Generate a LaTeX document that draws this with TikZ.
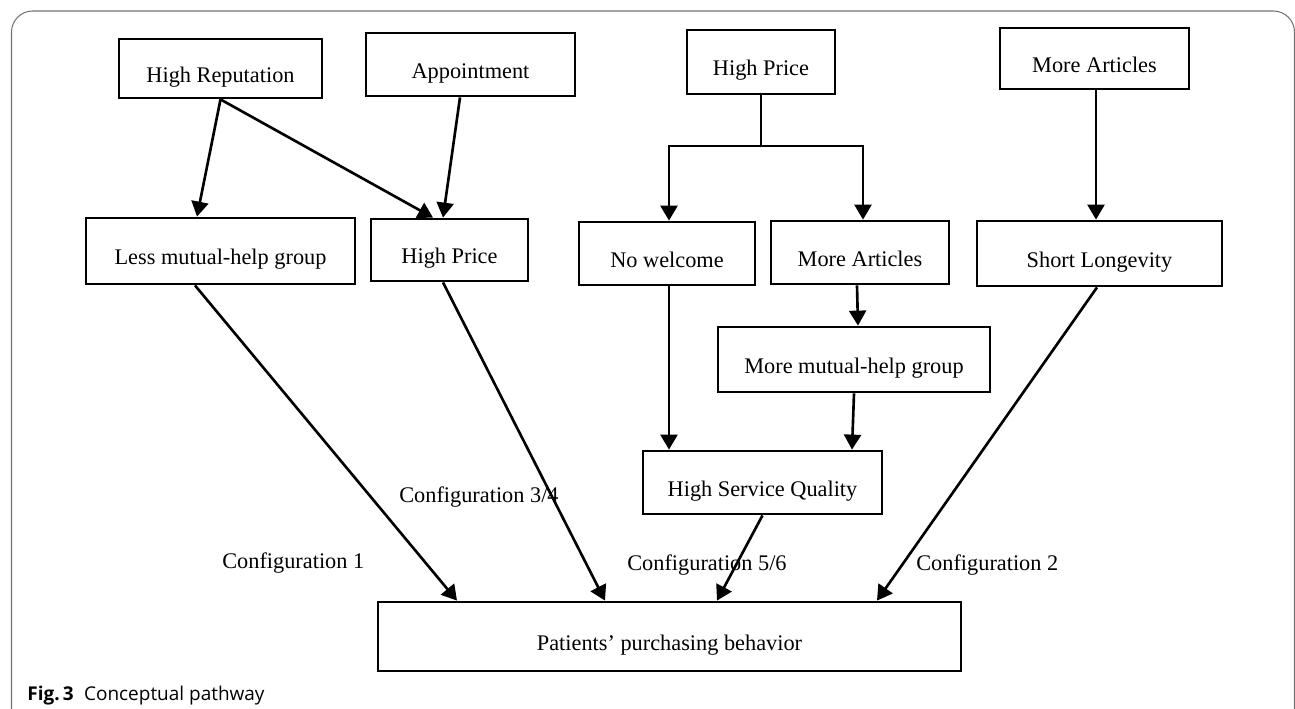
\documentclass[tikz,border=0pt]{standalone}
\usepackage{fontspec}
\setmainfont{Liberation Serif}
\newfontfamily\capfont{Open Sans}
\usetikzlibrary{positioning, arrows.meta, calc}

\begin{document}
\begin{tikzpicture}
[x=0.02cm, y=-0.02cm,
 blk/.style={rectangle, draw, line width=1.6pt, inner sep=2pt, text height=18pt, text depth=2.5pt, font=\fontsize{12.7}{15}\selectfont},
 cfg/.style={anchor=base west, inner sep=0pt, font=\fontsize{12.7}{15}\selectfont},
 ->/.style={line width=1.5pt, arrows={-Triangle[length=0.3cm, width=0.34cm]}}]

\useasboundingbox (0,0) rectangle (1295,708);

% outer frame
\draw[black!55, line width=0.6pt, rounded corners=12pt] (11.5,760) -- (11.5,11) -- (1294.5,11) -- (1294.5,760);

% top row
\node[blk, minimum width=4.06cm, minimum height=1.18cm] (hrep) at (220.5,68.5) {High Reputation};
\node[blk, minimum width=4.18cm, minimum height=1.26cm] (appt) at (470.5,64.5) {Appointment};
\node[blk, minimum width=2.96cm, minimum height=1.28cm] (hpriceT) at (761,62) {High Price};
\node[blk, minimum width=3.78cm, minimum height=1.22cm] (martT) at (1094.5,58.5) {More Articles};

% second row
\node[blk, minimum width=5.38cm, minimum height=1.32cm] (lessmh) at (220.5,251) {Less mutual-help group};
\node[blk, minimum width=3.14cm, minimum height=1.24cm] (hpriceM) at (449.5,250) {High Price};
\node[blk, minimum width=3.52cm, minimum height=1.26cm] (nowel) at (667,253.5) {No welcome};
\node[blk, minimum width=3.56cm, minimum height=1.26cm] (martM) at (860,252.5) {More Articles};
\node[blk, minimum width=4.9cm, minimum height=1.3cm] (shortl) at (1099.5,253.5) {Short Longevity};

% lower boxes
\node[blk, minimum width=5.44cm, minimum height=1.3cm] (moremh) at (854,359.5) {More mutual-help group};
\node[blk, minimum width=4.78cm, minimum height=1.26cm] (hsq) at (762.5,482.5) {High Service Quality};
\node[blk, minimum width=11.66cm, minimum height=1.38cm] (purch) at (669.5,636.5) {Patients' purchasing behavior};

% configuration labels
\node[cfg] (cfgA) at (222,568) {Configuration 1};
\node[cfg] (cfgB) at (399,502) {Configuration 3/4};
\node[cfg] (cfgC) at (627,570) {Configuration 5/6};
\node[cfg] (cfgD) at (916,570) {Configuration 2};

\coordinate (fork) at (761,146);

\draw [->] (hrep.south) -- ($(lessmh.north)+(-23.5,0)$);
\draw [->] (hrep.south) -- ($(hpriceM.north)+(-16.5,0)$);
\draw [->] ($(appt.south)+(-10.5,0)$) -- ($(hpriceM.north)+(-6.5,0)$);
\draw [line width=1.5pt] (hpriceT.south) -- (fork);
\draw [->] (fork) -| ($(nowel.north)+(2,0)$);
\draw [->] (fork) -| ($(martM.north)+(3,0)$);
\draw [->] ($(martT.south)+(1.5,0)$) -- ($(martT.south |- shortl.north)+(1.5,0)$);
\draw [->] ($(martM.south)+(-3,0)$) -- ($(moremh.north)+(4,0)$);
\draw [->] ($(nowel.south)+(2,0)$) -- ($(nowel.south |- hsq.north)+(2,0)$);
\draw [->] (moremh.south) -- ($(hsq.north)+(89.5,0)$);

\draw [->] ($(lessmh.south)+(-25.5,0)$) -- ($(purch.north)+(-212.5,0)$);
\draw [->] ($(hpriceM.south)+(-6.5,0)$) -- ($(purch.north)+(-64.5,0)$);
\draw [->] (hsq.south) -- ($(purch.north)+(47.5,0)$);
\draw [->] ($(shortl.south)+(-2.5,0)$) -- ($(purch.north)+(207.5,0)$);

% caption
\node[anchor=base west, inner sep=0pt, font=\capfont\fontsize{10.8}{13}\selectfont] (capt) at (27,700) {\textbf{Fig.\,3}\hspace{0.55em}Conceptual pathway};

\end{tikzpicture}
\end{document}
